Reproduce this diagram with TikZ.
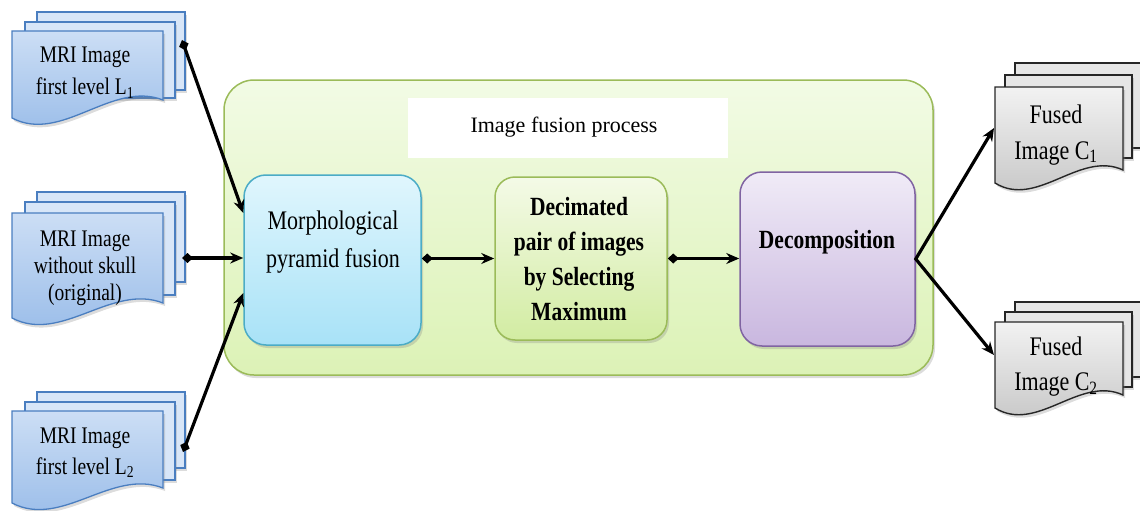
\documentclass[tikz,border=0pt]{standalone}
\usepackage{fontspec}
\setmainfont{Liberation Serif}
\usepackage{graphicx}
\usetikzlibrary{arrows.meta,shadows,calc}

% palette
\definecolor{docline}{HTML}{4A7EC0}
\definecolor{doctop}{HTML}{CCDEF5}
\definecolor{docbot}{HTML}{96BAE8}
\definecolor{docback}{HTML}{D8E6F8}
\definecolor{grayline}{HTML}{262626}
\definecolor{graytop}{HTML}{F2F2F2}
\definecolor{graybot}{HTML}{C2C2C2}
\definecolor{grayback}{HTML}{E6E6E6}
\definecolor{frameline}{HTML}{9BBB59}
\definecolor{frametop}{HTML}{F2FBE5}
\definecolor{framebot}{HTML}{DCF2B6}
\definecolor{morphline}{HTML}{4BACC6}
\definecolor{morphtop}{HTML}{E0F6FD}
\definecolor{morphbot}{HTML}{A8E2F7}
\definecolor{decimtop}{HTML}{F4FAE7}
\definecolor{decimbot}{HTML}{D2ECA2}
\definecolor{decompline}{HTML}{8064A2}
\definecolor{decomptop}{HTML}{F0EBF7}
\definecolor{decompbot}{HTML}{C9B7DF}

% multi-line text, slightly stretched vertically
\newcommand\tallstack[1]{\scalebox{1}[1.22]{\begin{tabular}{@{}c@{}}#1\end{tabular}}}

% front sheet of a document stack: left, right, top, bottom-left, bottom-right, style
\newcommand\wavesheet[6]{%
  \path[#6] (#1,-#3) -- (#2,-#3) -- (#2,-#5)
    .. controls ({#1+0.66*(#2-#1)},{-#5+20}) and ({#1+0.33*(#2-#1)},{-#4-26}) ..
    (#1,-#4) -- cycle;}

\tikzset{
  softshadow/.style={drop shadow={opacity=0.28,shadow xshift=2pt,shadow yshift=-3pt}},
  bluesheet/.style={draw=docline,line width=1.3pt,fill=docback,softshadow},
  bluefront/.style={draw=docline,line width=1.3pt,top color=doctop,bottom color=docbot,softshadow},
  graysheet/.style={draw=grayline,line width=1.4pt,fill=grayback,softshadow},
  grayfront/.style={draw=grayline,line width=1.4pt,top color=graytop,bottom color=graybot,softshadow},
  stepbox/.style={rectangle,line width=1.5pt,inner sep=0pt,softshadow},
  doctext/.style={font=\fontsize{19.5}{#1}\selectfont,inner sep=0pt},
  boxtext/.style={font=\fontsize{22}{#1}\selectfont,inner sep=0pt},
  boldtext/.style={font=\fontsize{21.5}{#1}\selectfont\bfseries,inner sep=0pt},
  tipend/.tip={Stealth[length=13pt,width=11pt]},
  tailend/.tip={Diamond[length=11pt,width=10pt]},
  conn/.style={line width=3.2pt,black,tailend-tipend},
  fork/.style={line width=3.2pt,black,tipend-tipend},
}

\begin{document}
\begin{tikzpicture}[x=1pt,y=1pt]
\useasboundingbox (0,0) rectangle (1140,-511);

% ---- process frame ----
\node[stepbox,draw=frameline,top color=frametop,bottom color=framebot,
      rounded corners=30pt,minimum width=709pt,minimum height=295pt] (frame) at (578.5,-227.5) {};
\node[fill=white,minimum width=320pt,minimum height=60pt,inner sep=0pt] (titlebox) at (568,-128) {};
\node[boxtext=26] (title) at (564,-127) {Image fusion process};

% ---- processing steps ----
\node[stepbox,draw=morphline,top color=morphtop,bottom color=morphbot,
      rounded corners=22pt,minimum width=177pt,minimum height=170pt] (morph) at (332.5,-260) {};
\node[boxtext=31] (morphlabel) at (333,-241) {\tallstack{Morphological\\pyramid fusion}};

\node[stepbox,draw=frameline,top color=decimtop,bottom color=decimbot,
      rounded corners=20pt,minimum width=172pt,minimum height=163pt] (decim) at (581,-258.5) {};
\node[boldtext=28.7] (decimlabel) at (579,-261) {\tallstack{Decimated\\pair of images\\by Selecting\\Maximum}};

\node[stepbox,draw=decompline,top color=decomptop,bottom color=decompbot,
      rounded corners=22pt,minimum width=175pt,minimum height=174pt] (decomp) at (827.5,-259) {};
\node[boldtext=26] (decomplabel) at (827,-242) {\tallstack{Decomposition}};

% ---- input image stacks ----
\path[bluesheet] (37,-12) rectangle (185,-90);
\path[bluesheet] (25,-22) rectangle (175,-98);
\wavesheet{12}{163}{31}{118}{100}{bluefront}
\node[doctext=26.2] (mri1) at (85,-72) {\tallstack{MRI Image\\first level L\textsubscript{1}}};

\path[bluesheet] (37,-192) rectangle (185,-282);
\path[bluesheet] (25,-202) rectangle (175,-295);
\wavesheet{12}{163}{213}{318}{303}{bluefront}
\node[doctext=22.5] (mri0) at (85,-268) {\tallstack{MRI Image\\without skull\\(original)}};

\path[bluesheet] (37,-392) rectangle (185,-468);
\path[bluesheet] (25,-402) rectangle (175,-480);
\wavesheet{12}{163}{411}{503}{488}{bluefront}
\node[doctext=25.4] (mri2) at (85,-452.5) {\tallstack{MRI Image\\first level L\textsubscript{2}}};

% ---- fused output stacks ----
\path[graysheet] (1015,-63) rectangle (1150,-148);
\path[graysheet] (1005,-75) rectangle (1132,-158);
\wavesheet{995}{1123}{87}{183}{170}{grayfront}
\node[boxtext=28.7] (fused1) at (1056,-134.5) {\tallstack{Fused\\Image C\textsubscript{1}}};

\path[graysheet] (1015,-302) rectangle (1150,-377);
\path[graysheet] (1005,-312) rectangle (1132,-387);
\wavesheet{995}{1123}{322}{408}{395}{grayfront}
\node[boxtext=28.7] (fused2) at (1056,-366) {\tallstack{Fused\\Image C\textsubscript{2}}};

% ---- ports on the stacks ----
\coordinate (in1) at (182,-40);
\coordinate (in0) at (182,-258);
\coordinate (in2) at (183,-452);
\coordinate (out1) at (994,-128);
\coordinate (out2) at (994,-355);

% ---- connectors ----
\draw[conn] (in1) -- ([yshift=47pt]morph.west);
\draw[conn] (in0) -- (morph.west |- in0);
\draw[conn] (in2) -- ([yshift=-33pt]morph.west);
\draw[conn] (morph.east |- decim.west) -- (decim.west);
\draw[conn] (decim.east) -- (decomp.west |- decim.east);
\draw[fork] (out1) -- (decomp.east) -- (out2);
\end{tikzpicture}
\end{document}
